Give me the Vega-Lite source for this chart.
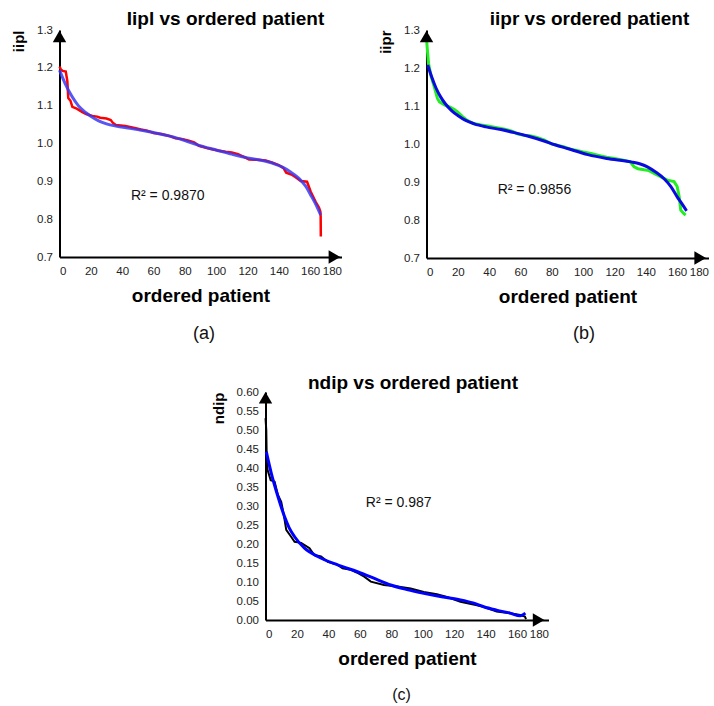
{
  "$schema": "https://vega.github.io/schema/vega-lite/v6.json",
  "background": "white",
  "padding": {"left": 11.5, "top": 10, "right": 0, "bottom": 0},
  "spacing": 31,
  "config": {
    "font": "Liberation Sans",
    "view": {"stroke": null},
    "axis": {
      "grid": false,
      "ticks": false,
      "labelOverlap": false,
      "tickCount": 30,
      "domainColor": "black",
      "domainWidth": 2,
      "labelFont": "Liberation Sans",
      "labelFontSize": 11.5,
      "labelColor": "#222222",
      "titleFont": "Liberation Sans",
      "titleFontWeight": "bold",
      "titleColor": "black"
    },
    "axisX": {"titleFontSize": 19, "labelPadding": 8, "titlePadding": 10},
    "axisY": {"titleFontSize": 15, "labelPadding": 7, "titlePadding": 10, "titleAnchor": "end"}
  },
  "datasets": {
    "iipl": [
      {"series": "observed", "patient": 0, "value": 1.203},
      {"series": "observed", "patient": 1, "value": 1.195},
      {"series": "observed", "patient": 2, "value": 1.192},
      {"series": "observed", "patient": 4, "value": 1.19},
      {"series": "observed", "patient": 5, "value": 1.165},
      {"series": "observed", "patient": 5.6, "value": 1.12},
      {"series": "observed", "patient": 7, "value": 1.113},
      {"series": "observed", "patient": 8.2, "value": 1.097},
      {"series": "observed", "patient": 11, "value": 1.092},
      {"series": "observed", "patient": 14.6, "value": 1.083},
      {"series": "observed", "patient": 17, "value": 1.078},
      {"series": "observed", "patient": 21, "value": 1.073},
      {"series": "observed", "patient": 24, "value": 1.071},
      {"series": "observed", "patient": 26, "value": 1.068},
      {"series": "observed", "patient": 30, "value": 1.066},
      {"series": "observed", "patient": 32.7, "value": 1.062},
      {"series": "observed", "patient": 34, "value": 1.055},
      {"series": "observed", "patient": 36, "value": 1.049},
      {"series": "observed", "patient": 42, "value": 1.046},
      {"series": "observed", "patient": 48, "value": 1.041},
      {"series": "observed", "patient": 52, "value": 1.037},
      {"series": "observed", "patient": 56, "value": 1.034},
      {"series": "observed", "patient": 60, "value": 1.028},
      {"series": "observed", "patient": 65, "value": 1.025},
      {"series": "observed", "patient": 70, "value": 1.02},
      {"series": "observed", "patient": 74, "value": 1.014},
      {"series": "observed", "patient": 78, "value": 1.012},
      {"series": "observed", "patient": 82, "value": 1.008},
      {"series": "observed", "patient": 86, "value": 1.003},
      {"series": "observed", "patient": 89, "value": 0.994},
      {"series": "observed", "patient": 94, "value": 0.988},
      {"series": "observed", "patient": 98, "value": 0.984},
      {"series": "observed", "patient": 102, "value": 0.981},
      {"series": "observed", "patient": 106, "value": 0.978},
      {"series": "observed", "patient": 110, "value": 0.976},
      {"series": "observed", "patient": 114, "value": 0.972},
      {"series": "observed", "patient": 118, "value": 0.964},
      {"series": "observed", "patient": 121, "value": 0.958},
      {"series": "observed", "patient": 126, "value": 0.957},
      {"series": "observed", "patient": 131.6, "value": 0.955},
      {"series": "observed", "patient": 136, "value": 0.949},
      {"series": "observed", "patient": 140, "value": 0.943},
      {"series": "observed", "patient": 143, "value": 0.935},
      {"series": "observed", "patient": 144.7, "value": 0.923},
      {"series": "observed", "patient": 148, "value": 0.918},
      {"series": "observed", "patient": 150.7, "value": 0.911},
      {"series": "observed", "patient": 154, "value": 0.901},
      {"series": "observed", "patient": 158, "value": 0.899},
      {"series": "observed", "patient": 160.3, "value": 0.873},
      {"series": "observed", "patient": 163.5, "value": 0.846},
      {"series": "observed", "patient": 165.6, "value": 0.831},
      {"series": "observed", "patient": 166.5, "value": 0.82},
      {"series": "observed", "patient": 166.7, "value": 0.807},
      {"series": "observed", "patient": 166.8, "value": 0.754},
      {"series": "fit", "patient": 0, "value": 1.194},
      {"series": "fit", "patient": 4, "value": 1.155},
      {"series": "fit", "patient": 8, "value": 1.124},
      {"series": "fit", "patient": 12, "value": 1.1},
      {"series": "fit", "patient": 16.7, "value": 1.082},
      {"series": "fit", "patient": 20, "value": 1.072},
      {"series": "fit", "patient": 25, "value": 1.06},
      {"series": "fit", "patient": 30, "value": 1.052},
      {"series": "fit", "patient": 36, "value": 1.046},
      {"series": "fit", "patient": 45, "value": 1.04},
      {"series": "fit", "patient": 50.7, "value": 1.036},
      {"series": "fit", "patient": 60, "value": 1.029},
      {"series": "fit", "patient": 72, "value": 1.018},
      {"series": "fit", "patient": 80, "value": 1.008},
      {"series": "fit", "patient": 89, "value": 0.995},
      {"series": "fit", "patient": 100, "value": 0.983},
      {"series": "fit", "patient": 110, "value": 0.972},
      {"series": "fit", "patient": 120, "value": 0.962},
      {"series": "fit", "patient": 131.6, "value": 0.953},
      {"series": "fit", "patient": 138, "value": 0.945},
      {"series": "fit", "patient": 142, "value": 0.938},
      {"series": "fit", "patient": 147, "value": 0.926},
      {"series": "fit", "patient": 152.8, "value": 0.908},
      {"series": "fit", "patient": 157, "value": 0.888},
      {"series": "fit", "patient": 161, "value": 0.859},
      {"series": "fit", "patient": 164, "value": 0.836},
      {"series": "fit", "patient": 166.7, "value": 0.811}
    ],
    "iipr": [
      {"series": "observed", "patient": 0, "value": 1.278},
      {"series": "observed", "patient": 0.5, "value": 1.25},
      {"series": "observed", "patient": 1.3, "value": 1.212},
      {"series": "observed", "patient": 3, "value": 1.177},
      {"series": "observed", "patient": 5, "value": 1.15},
      {"series": "observed", "patient": 7, "value": 1.12},
      {"series": "observed", "patient": 8.3, "value": 1.111},
      {"series": "observed", "patient": 11.5, "value": 1.103},
      {"series": "observed", "patient": 15, "value": 1.097},
      {"series": "observed", "patient": 17.8, "value": 1.091},
      {"series": "observed", "patient": 20, "value": 1.084},
      {"series": "observed", "patient": 23, "value": 1.072},
      {"series": "observed", "patient": 26, "value": 1.062},
      {"series": "observed", "patient": 30, "value": 1.054},
      {"series": "observed", "patient": 35, "value": 1.05},
      {"series": "observed", "patient": 40, "value": 1.047},
      {"series": "observed", "patient": 45, "value": 1.043},
      {"series": "observed", "patient": 50, "value": 1.039},
      {"series": "observed", "patient": 55, "value": 1.033},
      {"series": "observed", "patient": 58, "value": 1.027},
      {"series": "observed", "patient": 62, "value": 1.023},
      {"series": "observed", "patient": 66, "value": 1.022},
      {"series": "observed", "patient": 70, "value": 1.018},
      {"series": "observed", "patient": 75, "value": 1.011},
      {"series": "observed", "patient": 80, "value": 1.0},
      {"series": "observed", "patient": 84, "value": 0.996},
      {"series": "observed", "patient": 88, "value": 0.992},
      {"series": "observed", "patient": 92, "value": 0.986},
      {"series": "observed", "patient": 96, "value": 0.983},
      {"series": "observed", "patient": 100, "value": 0.979},
      {"series": "observed", "patient": 105, "value": 0.975},
      {"series": "observed", "patient": 110, "value": 0.97},
      {"series": "observed", "patient": 115, "value": 0.965},
      {"series": "observed", "patient": 120, "value": 0.962},
      {"series": "observed", "patient": 125, "value": 0.958},
      {"series": "observed", "patient": 130, "value": 0.953},
      {"series": "observed", "patient": 132.5, "value": 0.94},
      {"series": "observed", "patient": 135, "value": 0.935},
      {"series": "observed", "patient": 138.9, "value": 0.932},
      {"series": "observed", "patient": 142, "value": 0.93},
      {"series": "observed", "patient": 145, "value": 0.923},
      {"series": "observed", "patient": 150, "value": 0.913},
      {"series": "observed", "patient": 153.7, "value": 0.905},
      {"series": "observed", "patient": 158, "value": 0.901},
      {"series": "observed", "patient": 160, "value": 0.888},
      {"series": "observed", "patient": 161.3, "value": 0.861},
      {"series": "observed", "patient": 162.3, "value": 0.826},
      {"series": "observed", "patient": 164, "value": 0.818},
      {"series": "observed", "patient": 165.4, "value": 0.813},
      {"series": "fit", "patient": 0.8, "value": 1.208},
      {"series": "fit", "patient": 3, "value": 1.18},
      {"series": "fit", "patient": 6, "value": 1.148},
      {"series": "fit", "patient": 9, "value": 1.124},
      {"series": "fit", "patient": 12, "value": 1.106},
      {"series": "fit", "patient": 16, "value": 1.088},
      {"series": "fit", "patient": 20, "value": 1.075},
      {"series": "fit", "patient": 25, "value": 1.062},
      {"series": "fit", "patient": 30.5, "value": 1.053},
      {"series": "fit", "patient": 38, "value": 1.045},
      {"series": "fit", "patient": 47.5, "value": 1.038},
      {"series": "fit", "patient": 56, "value": 1.03},
      {"series": "fit", "patient": 64.5, "value": 1.021},
      {"series": "fit", "patient": 75, "value": 1.008},
      {"series": "fit", "patient": 82, "value": 0.998},
      {"series": "fit", "patient": 90, "value": 0.988},
      {"series": "fit", "patient": 103, "value": 0.972},
      {"series": "fit", "patient": 115, "value": 0.962},
      {"series": "fit", "patient": 130.6, "value": 0.953},
      {"series": "fit", "patient": 136, "value": 0.948},
      {"series": "fit", "patient": 141, "value": 0.94},
      {"series": "fit", "patient": 146, "value": 0.927},
      {"series": "fit", "patient": 151.8, "value": 0.908},
      {"series": "fit", "patient": 156, "value": 0.888},
      {"series": "fit", "patient": 160, "value": 0.861},
      {"series": "fit", "patient": 163, "value": 0.843},
      {"series": "fit", "patient": 166, "value": 0.824}
    ],
    "ndip": [
      {"series": "observed", "patient": 0, "value": 0.531},
      {"series": "observed", "patient": 0.5, "value": 0.5},
      {"series": "observed", "patient": 0.8, "value": 0.42},
      {"series": "observed", "patient": 1.3, "value": 0.395},
      {"series": "observed", "patient": 3.3, "value": 0.368},
      {"series": "observed", "patient": 5.8, "value": 0.364},
      {"series": "observed", "patient": 7.9, "value": 0.329},
      {"series": "observed", "patient": 10, "value": 0.311},
      {"series": "observed", "patient": 11.5, "value": 0.28},
      {"series": "observed", "patient": 13.2, "value": 0.237},
      {"series": "observed", "patient": 16.3, "value": 0.219},
      {"series": "observed", "patient": 18.5, "value": 0.206},
      {"series": "observed", "patient": 22.7, "value": 0.203},
      {"series": "observed", "patient": 28, "value": 0.189},
      {"series": "observed", "patient": 31, "value": 0.171},
      {"series": "observed", "patient": 35.3, "value": 0.167},
      {"series": "observed", "patient": 39.6, "value": 0.153},
      {"series": "observed", "patient": 45.9, "value": 0.145},
      {"series": "observed", "patient": 49, "value": 0.136},
      {"series": "observed", "patient": 54.3, "value": 0.132},
      {"series": "observed", "patient": 58, "value": 0.125},
      {"series": "observed", "patient": 62.8, "value": 0.114},
      {"series": "observed", "patient": 67, "value": 0.101},
      {"series": "observed", "patient": 75.4, "value": 0.092},
      {"series": "observed", "patient": 84, "value": 0.088},
      {"series": "observed", "patient": 92.3, "value": 0.083},
      {"series": "observed", "patient": 100.7, "value": 0.074},
      {"series": "observed", "patient": 109, "value": 0.068},
      {"series": "observed", "patient": 116, "value": 0.06},
      {"series": "observed", "patient": 124, "value": 0.048},
      {"series": "observed", "patient": 134.5, "value": 0.039},
      {"series": "observed", "patient": 140, "value": 0.033},
      {"series": "observed", "patient": 147, "value": 0.022},
      {"series": "observed", "patient": 155.6, "value": 0.018},
      {"series": "observed", "patient": 162, "value": 0.013},
      {"series": "observed", "patient": 165, "value": 0.009},
      {"series": "observed", "patient": 165.7, "value": 0.002},
      {"series": "fit", "patient": 0.5, "value": 0.443},
      {"series": "fit", "patient": 3.7, "value": 0.386},
      {"series": "fit", "patient": 7.9, "value": 0.325},
      {"series": "fit", "patient": 12.1, "value": 0.272},
      {"series": "fit", "patient": 15, "value": 0.243},
      {"series": "fit", "patient": 18.5, "value": 0.219},
      {"series": "fit", "patient": 24.8, "value": 0.189},
      {"series": "fit", "patient": 33.2, "value": 0.167},
      {"series": "fit", "patient": 45.9, "value": 0.145},
      {"series": "fit", "patient": 58.5, "value": 0.127},
      {"series": "fit", "patient": 70, "value": 0.108},
      {"series": "fit", "patient": 79.6, "value": 0.092},
      {"series": "fit", "patient": 90, "value": 0.08},
      {"series": "fit", "patient": 100.7, "value": 0.07},
      {"series": "fit", "patient": 112, "value": 0.061},
      {"series": "fit", "patient": 124, "value": 0.053},
      {"series": "fit", "patient": 132, "value": 0.045},
      {"series": "fit", "patient": 138.8, "value": 0.035},
      {"series": "fit", "patient": 147, "value": 0.026},
      {"series": "fit", "patient": 155.6, "value": 0.018},
      {"series": "fit", "patient": 162, "value": 0.011},
      {"series": "fit", "patient": 165.3, "value": 0.018}
    ]
  },
  "vconcat": [
    {
      "spacing": 37,
      "hconcat": [
        {
          "width": 282,
          "height": 227,
          "title": {"text": "Iipl vs ordered patient", "frame": "group", "anchor": "middle", "dx": 25, "fontSize": 19, "fontWeight": "bold", "font": "Liberation Sans", "baseline": "alphabetic", "offset": -20},
          "data": {"name": "iipl"},
          "layer": [
            {
              "transform": [{"filter": "datum.series === 'observed'"}],
              "mark": {"type": "line", "color": "#ff0000", "strokeWidth": 2.5},
              "encoding": {
                "x": {"field": "patient", "type": "quantitative", "scale": {"domain": [0, 180], "nice": false}, "axis": {"values": [0, 20, 40, 60, 80, 100, 120, 140, 160, 180], "tickCount": 30, "labelOverlap": false, "title": "ordered patient"}},
                "y": {"field": "value", "type": "quantitative", "scale": {"domain": [0.7, 1.3], "nice": false, "zero": false}, "axis": {"values": [0.7, 0.8, 0.9, 1.0, 1.1, 1.2, 1.3], "tickCount": 30, "labelOverlap": false, "format": ".1f", "title": "iipl"}}
              }
            },
            {
              "transform": [{"filter": "datum.series === 'fit'"}],
              "mark": {"type": "line", "color": "#3a3af0", "strokeWidth": 3, "opacity": 0.85, "interpolate": "monotone"},
              "encoding": {
                "x": {"field": "patient", "type": "quantitative"},
                "y": {"field": "value", "type": "quantitative"}
              }
            },
            {
              "data": {"values": [{"label": "R² = 0.9870"}]},
              "mark": {"type": "text", "align": "left", "baseline": "middle", "fontSize": 14, "color": "#111111"},
              "encoding": {"x": {"datum": 45.6}, "y": {"datum": 0.862}, "text": {"field": "label"}}
            },
            {
              "data": {"values": [{"label": "(a)"}]},
              "mark": {"type": "text", "align": "center", "baseline": "middle", "fontSize": 18, "color": "#111111"},
              "encoding": {"x": {"datum": 92.2}, "y": {"datum": 0.497}, "text": {"field": "label"}}
            },
            {
              "data": {"values": [{"arrow": "y"}]},
              "mark": {"type": "point", "shape": "triangle-up", "filled": true, "color": "black", "opacity": 1, "size": 180},
              "encoding": {"x": {"datum": 0}, "y": {"datum": 1.283}}
            },
            {
              "data": {"values": [{"arrow": "x"}]},
              "mark": {"type": "point", "shape": "triangle-right", "filled": true, "color": "black", "opacity": 1, "size": 180},
              "encoding": {"x": {"datum": 175.5}, "y": {"datum": 0.7}}
            }
          ]
        },
        {
          "width": 282,
          "height": 228,
          "title": {"text": "iipr vs ordered patient", "frame": "group", "anchor": "middle", "dx": 22, "fontSize": 19, "fontWeight": "bold", "font": "Liberation Sans", "baseline": "alphabetic", "offset": -20},
          "data": {"name": "iipr"},
          "layer": [
            {
              "transform": [{"filter": "datum.series === 'observed'"}],
              "mark": {"type": "line", "color": "#22ee22", "strokeWidth": 3},
              "encoding": {
                "x": {"field": "patient", "type": "quantitative", "scale": {"domain": [0, 180], "nice": false}, "axis": {"values": [0, 20, 40, 60, 80, 100, 120, 140, 160, 180], "tickCount": 30, "labelOverlap": false, "title": "ordered patient"}},
                "y": {"field": "value", "type": "quantitative", "scale": {"domain": [0.7, 1.3], "nice": false, "zero": false}, "axis": {"values": [0.7, 0.8, 0.9, 1.0, 1.1, 1.2, 1.3], "tickCount": 30, "labelOverlap": false, "format": ".1f", "title": "iipr"}}
              }
            },
            {
              "transform": [{"filter": "datum.series === 'fit'"}],
              "mark": {"type": "line", "color": "#0a0ae0", "strokeWidth": 3, "interpolate": "monotone"},
              "encoding": {
                "x": {"field": "patient", "type": "quantitative"},
                "y": {"field": "value", "type": "quantitative"}
              }
            },
            {
              "data": {"values": [{"label": "R² = 0.9856"}]},
              "mark": {"type": "text", "align": "left", "baseline": "middle", "fontSize": 14, "color": "#111111"},
              "encoding": {"x": {"datum": 45.4}, "y": {"datum": 0.879}, "text": {"field": "label"}}
            },
            {
              "data": {"values": [{"label": "(b)"}]},
              "mark": {"type": "text", "align": "center", "baseline": "middle", "fontSize": 18, "color": "#111111"},
              "encoding": {"x": {"datum": 100.5}, "y": {"datum": 0.5}, "text": {"field": "label"}}
            },
            {
              "data": {"values": [{"arrow": "y"}]},
              "mark": {"type": "point", "shape": "triangle-up", "filled": true, "color": "black", "opacity": 1, "size": 180},
              "encoding": {"x": {"datum": 0}, "y": {"datum": 1.283}}
            },
            {
              "data": {"values": [{"arrow": "x"}]},
              "mark": {"type": "point", "shape": "triangle-right", "filled": true, "color": "black", "opacity": 1, "size": 180},
              "encoding": {"x": {"datum": 174.7}, "y": {"datum": 0.7}}
            }
          ]
        }
      ]
    },
    {
      "spacing": 86,
      "hconcat": [
        {
          "width": 65,
          "height": 228,
          "data": {"values": [{"spacer": 1}]},
          "mark": {"type": "point", "opacity": 0},
          "encoding": {}
        },
        {
          "width": 283,
          "height": 228,
          "title": {"text": "ndip vs ordered patient", "frame": "group", "anchor": "middle", "dx": 6, "fontSize": 19, "fontWeight": "bold", "font": "Liberation Sans", "baseline": "alphabetic", "offset": -22},
          "data": {"name": "ndip"},
          "layer": [
            {
              "transform": [{"filter": "datum.series === 'observed'"}],
              "mark": {"type": "line", "color": "#000000", "strokeWidth": 2},
              "encoding": {
                "x": {"field": "patient", "type": "quantitative", "scale": {"domain": [0, 180], "nice": false}, "axis": {"values": [0, 20, 40, 60, 80, 100, 120, 140, 160, 180], "tickCount": 30, "labelOverlap": false, "title": "ordered patient"}},
                "y": {"field": "value", "type": "quantitative", "scale": {"domain": [0, 0.6], "nice": false}, "axis": {"values": [0, 0.05, 0.1, 0.15, 0.2, 0.25, 0.3, 0.35, 0.4, 0.45, 0.5, 0.55, 0.6], "tickCount": 30, "labelOverlap": false, "format": ".2f", "title": "ndip"}}
              }
            },
            {
              "transform": [{"filter": "datum.series === 'fit'"}],
              "mark": {"type": "line", "color": "#0000ff", "strokeWidth": 3, "interpolate": "monotone"},
              "encoding": {
                "x": {"field": "patient", "type": "quantitative"},
                "y": {"field": "value", "type": "quantitative"}
              }
            },
            {
              "data": {"values": [{"label": "R² = 0.987"}]},
              "mark": {"type": "text", "align": "left", "baseline": "middle", "fontSize": 14, "color": "#111111"},
              "encoding": {"x": {"datum": 63.8}, "y": {"datum": 0.309}, "text": {"field": "label"}}
            },
            {
              "data": {"values": [{"label": "(c)"}]},
              "mark": {"type": "text", "align": "center", "baseline": "middle", "fontSize": 16, "color": "#111111"},
              "encoding": {"x": {"datum": 86.5}, "y": {"datum": -0.197}, "text": {"field": "label"}}
            },
            {
              "data": {"values": [{"arrow": "y"}]},
              "mark": {"type": "point", "shape": "triangle-up", "filled": true, "color": "black", "opacity": 1, "size": 180},
              "encoding": {"x": {"datum": 0}, "y": {"datum": 0.585}}
            },
            {
              "data": {"values": [{"arrow": "x"}]},
              "mark": {"type": "point", "shape": "triangle-right", "filled": true, "color": "black", "opacity": 1, "size": 180},
              "encoding": {"x": {"datum": 173.7}, "y": {"datum": 0}}
            }
          ]
        }
      ]
    }
  ]
}
